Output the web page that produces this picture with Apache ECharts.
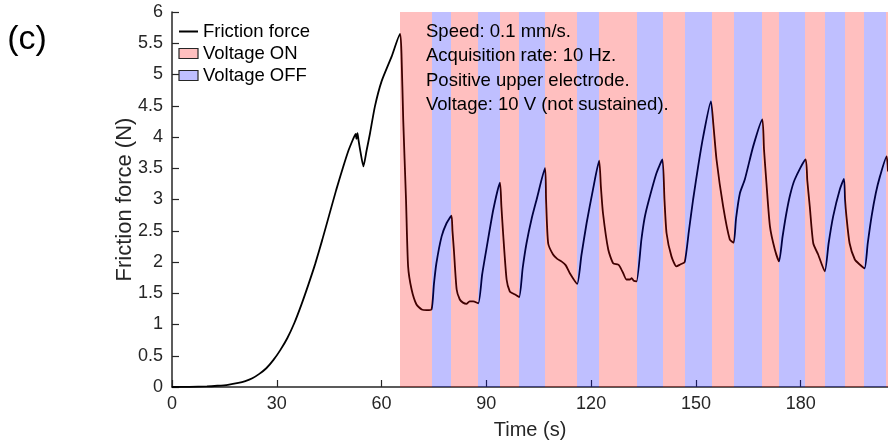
<!DOCTYPE html>
<html>
<head>
<meta charset="utf-8">
<script src="https://cdn.jsdelivr.net/npm/echarts@6/dist/echarts.min.js"></script>
<style>
  html, body { margin: 0; padding: 0; background: #fff; }
  #chart { width: 888px; height: 445px; }
</style>
</head>
<body>
<div id="chart"></div>
<script>
// friction force trace (s, N)
const time = [
  0, 5, 10, 13, 16, 19, 21, 23, 25, 27, 29, 31, 33, 35, 37, 39, 41, 43, 45, 47, 49, 50.5, 51.5, 52.2, 52.6, 52.8, 53.1, 53.4, 54.0, 54.8,
  55.7, 56.7, 58.1, 60, 62.9, 65.3,
  65.7, 66.2, 67.0, 67.6, 68.6, 70, 71.5, 72.9, 74.3,
  75.0, 75.7, 77.2, 78.6, 80.0,
  80.3, 80.7, 81.5, 82.4, 83.3, 84.3, 85.2, 86.2, 87.7,
  88.8, 90, 92, 93.9,
  94.3, 94.8, 95.8, 96.7, 97.5, 98.2, 99.4,
  100.4, 101.5, 103, 104.4, 106.8,
  107.1, 107.7, 109.1, 110.3, 111.5, 112.7, 113.9, 116,
  117.2, 118.7, 120.5, 122.3,
  122.8, 123.4, 124.9, 126.3, 127.7, 128.2, 129.2, 130.1, 131.1, 131.6, 132.2, 133.0,
  134.4, 135.3, 136.3, 138.7, 140.4,
  141.0, 141.6, 143, 144.4, 145.5, 146.8,
  148, 149.2, 150.7, 152.1, 154.3,
  155.0, 155.9, 157.8, 159.7, 160.8,
  161.5, 162.6, 164, 166.4, 169,
  169.5, 170.2, 171.2, 172.6, 173.8,
  174.8, 175.9, 177, 178.3, 181.4,
  181.9, 182.6, 183.6, 185, 186.9,
  188, 189.3, 191.2, 192.4,
  192.7, 193.1, 194, 195.5, 196.9, 198.3,
  199.2, 200.3, 201.5, 202.7, 204.6, 205
];
const force = [
  0, 0.003, 0.01, 0.02, 0.035, 0.065, 0.095, 0.14, 0.21, 0.3, 0.43, 0.59, 0.78, 1.02, 1.31, 1.63, 1.97, 2.35, 2.75, 3.15, 3.52, 3.78, 3.92, 4.01, 4.05, 3.97, 4.06, 3.95, 3.75, 3.53,
  3.78, 4.06, 4.49, 4.89, 5.29, 5.65,
  5.34, 4.28, 3.0, 1.93, 1.56, 1.32, 1.24, 1.23, 1.24,
  1.65, 1.98, 2.41, 2.62, 2.74,
  2.5, 2.2, 1.56, 1.40, 1.35, 1.33, 1.37, 1.37, 1.34,
  1.8, 2.2, 2.84, 3.27,
  2.9, 2.46, 1.72, 1.53, 1.5, 1.48, 1.44,
  1.9, 2.3, 2.7, 3.0, 3.50,
  3.0, 2.3, 2.12, 2.05, 2.01, 1.95, 1.82, 1.65,
  2.1, 2.62, 3.15, 3.62,
  3.2, 2.78, 2.2, 1.98, 1.96, 1.93, 1.82, 1.72, 1.72, 1.74, 1.7, 1.69,
  2.36, 2.7, 2.94, 3.42, 3.64,
  3.0, 2.46, 2.09, 1.93, 1.96, 2.0,
  2.5, 3.0, 3.55, 4.01, 4.57,
  4.2, 3.64, 2.89, 2.36, 2.31,
  2.7, 3.10, 3.32, 3.85, 4.28,
  3.8, 3.26, 2.57, 2.2, 2.01,
  2.4, 2.78, 3.08, 3.32, 3.64,
  3.3, 2.89, 2.30, 2.12, 1.85,
  2.3, 2.73, 3.16, 3.33,
  3.0, 2.73, 2.30, 2.04, 1.96, 1.90,
  2.3, 2.73, 3.1, 3.37, 3.69, 3.45
];

// voltage intervals [start, end] in s
const voltageOn = [
  [65.3, 74.3], [80.0, 87.7], [93.9, 99.4], [106.8, 116.0], [122.3, 133.2],
  [140.6, 147.0], [154.5, 160.8], [168.8, 173.8], [181.2, 186.9], [192.6, 198.0], [204.4, 205]
];
const voltageOff = [
  [74.3, 80.0], [87.7, 93.9], [99.4, 106.8], [116.0, 122.3], [133.2, 140.6],
  [147.0, 154.5], [160.8, 168.8], [173.8, 181.2], [186.9, 192.6], [198.0, 204.4]
];

const notes = [
  'Speed: 0.1 mm/s.',
  'Acquisition rate: 10 Hz.',
  'Positive upper electrode.',
  'Voltage: 10 V (not sustained).'
];

const axisColor = '#262626';
const font = 'Arial, "Liberation Sans", sans-serif';

const chart = echarts.init(document.getElementById('chart'));

function bandRenderer(fill) {
  return function (params, api) {
    const p0 = api.coord([api.value(0), 6]);
    const p1 = api.coord([api.value(1), 0]);
    const x0 = Math.round(p0[0]);
    const x1 = Math.round(p1[0]);
    return {
      type: 'rect',
      shape: { x: x0, y: p0[1], width: x1 - x0, height: p1[1] - p0[1] },
      style: { fill: fill }
    };
  };
}

const option = {
  animation: false,
  textStyle: { fontFamily: font },
  grid: { left: 172, right: 0, top: 12, bottom: 58 },
  legend: {
    orient: 'vertical',
    left: 178,
    top: 22,
    padding: 0,
    itemWidth: 19,
    itemHeight: 10,
    itemGap: 3,
    textStyle: { fontSize: 18.5, color: '#000', fontFamily: font },
    data: [
      { name: 'Friction force', itemStyle: { opacity: 0 } },
      { name: 'Voltage ON', icon: 'rect', itemStyle: { borderColor: axisColor, borderWidth: 1.2 } },
      { name: 'Voltage OFF', icon: 'rect', itemStyle: { borderColor: axisColor, borderWidth: 1.2 } }
    ]
  },
  xAxis: {
    type: 'value',
    min: 0,
    max: 205,
    interval: 30,
    name: 'Time (s)',
    nameLocation: 'middle',
    nameGap: 33,
    nameTextStyle: { fontSize: 20, color: axisColor },
    axisLine: { lineStyle: { color: axisColor, width: 1.5 } },
    axisTick: { inside: true, length: 7, lineStyle: { color: axisColor, width: 1.2 } },
    axisLabel: {
      fontSize: 18, color: axisColor, margin: 8, showMaxLabel: false,
      formatter: v => (v % 30 === 0 ? String(v) : '')
    },
    splitLine: { show: false }
  },
  yAxis: {
    type: 'value',
    min: 0,
    max: 6,
    interval: 0.5,
    name: 'Friction force (N)',
    nameLocation: 'middle',
    nameGap: 36,
    nameMoveOverlap: false,
    nameTextStyle: { fontSize: 22, color: axisColor },
    axisLine: { show: true, lineStyle: { color: axisColor, width: 1.5 } },
    axisTick: { show: true, inside: true, length: 7, lineStyle: { color: axisColor, width: 1.2 } },
    axisLabel: { fontSize: 18, color: axisColor, margin: 9 },
    splitLine: { show: false }
  },
  series: [
    {
      name: 'Friction force',
      type: 'line',
      data: time.map((t, i) => [t, force[i]]),
      symbol: 'none',
      smooth: 0.2,
      lineStyle: { color: '#000', width: 1.8 },
      itemStyle: { color: '#000' },
      z: 2
    },
    {
      name: 'Voltage ON',
      type: 'custom',
      data: voltageOn,
      encode: { x: [0, 1] },
      renderItem: bandRenderer('rgba(255,0,0,0.25)'),
      itemStyle: { color: 'rgba(255,0,0,0.25)' },
      z: 5
    },
    {
      name: 'Voltage OFF',
      type: 'custom',
      data: voltageOff,
      encode: { x: [0, 1] },
      renderItem: bandRenderer('rgba(0,0,255,0.25)'),
      itemStyle: { color: 'rgba(0,0,255,0.25)' },
      z: 5
    }
  ],
  graphic: [
    {
      type: 'text', x: 27, y: 40, z: 10,
      style: { text: '(c)', font: '34px ' + font, fill: '#000', align: 'center', verticalAlign: 'middle' }
    }
  ].concat(notes.map((t, i) => ({
    type: 'text', x: 426, y: 32 + i * 24.3, z: 10,
    style: { text: t, font: '18.5px ' + font, fill: '#000', verticalAlign: 'middle' }
  })))
};

chart.setOption(option);
</script>
</body>
</html>
